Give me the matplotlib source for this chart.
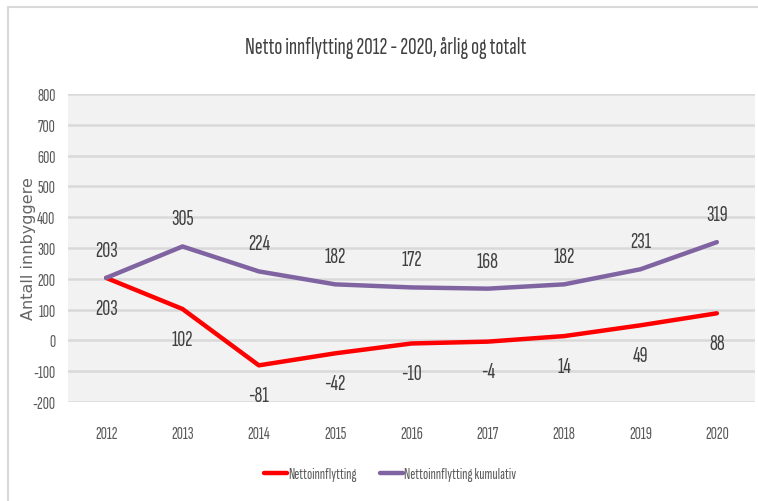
import matplotlib.pyplot as plt
from matplotlib.patches import Rectangle

plt.rcParams['axes.unicode_minus'] = False
smal = ['Sofia Sans Extra Condensed', 'Roboto Condensed', 'DejaVu Sans']

aar = ['2012', '2013', '2014', '2015', '2016', '2017', '2018', '2019', '2020']
netto = [203, 102, -81, -42, -10, -4, 14, 49, 88]
kumulativ = [203, 305, 224, 182, 172, 168, 182, 231, 319]
yticks = [-200, -100, 0, 100, 200, 300, 400, 500, 600, 700, 800]

fig = plt.figure(figsize=(7.58, 5.02), dpi=100)
# ramme rundt diagrammet
fig.patches.append(Rectangle((8/758, -0.1), 1.2, 1 - 8/502 + 0.1, transform=fig.transFigure,
                             fill=False, edgecolor='#d9d9d9', linewidth=1.5))
ax = fig.add_axes([68/758, 1 - 403/502, 687/758, 308/502])
ax.set_facecolor('#f2f2f2')
for s in ax.spines.values():
    s.set_visible(False)

x = list(range(len(aar)))
ax.plot(x, netto, color='#ff0000', linewidth=3.2, label='Nettoinnflytting', solid_capstyle='round')
ax.plot(x, kumulativ, color='#8064a2', linewidth=3.2, label='Nettoinnflytting kumulativ', solid_capstyle='round')

for i in x:
    ax.annotate(str(kumulativ[i]), (i, kumulativ[i]), xytext=(0, 13), textcoords='offset points',
                ha='center', va='bottom', fontsize=16, color='#404040', family=smal, fontweight='light')
    ax.annotate(str(netto[i]), (i, netto[i]), xytext=(0, -15), textcoords='offset points',
                ha='center', va='top', fontsize=16, color='#404040', family=smal, fontweight='light')

ax.set_xlim(-0.5, len(aar) - 0.5)
ax.set_ylim(-200, 800)
ax.set_yticks(yticks)
ax.set_xticks(x)
ax.set_xticklabels(aar)
ax.grid(True, axis='y', color='#d9d9d9', linewidth=1.8)
ax.set_axisbelow(True)
ax.tick_params(length=0, labelcolor='#595959', labelsize=12.5)
ax.tick_params(axis='x', pad=17)
ax.tick_params(axis='y', pad=9)
for t in ax.get_xticklabels() + ax.get_yticklabels():
    t.set_family(smal)
    t.set_fontweight('light')

fig.text(29/758, 1 - 249/502, 'Antall innbyggere', rotation=90, ha='center', va='center',
         color='#666666', fontsize=11.5, family='DejaVu Sans')
fig.text(386/758, 1 - 48/502, 'Netto innflytting 2012 - 2020, årlig og totalt', ha='center', va='center',
         fontsize=17, color='#404040', family=smal, fontweight='light')

fig.legend(loc='center', bbox_to_anchor=(390/758, 1 - 475/502), ncol=2, frameon=False,
           prop={'family': smal, 'size': 11, 'weight': 'light'}, handlelength=1.5, handletextpad=0.1,
           columnspacing=1.5, labelcolor='#595959')

fig.savefig('out.png', dpi=100)
